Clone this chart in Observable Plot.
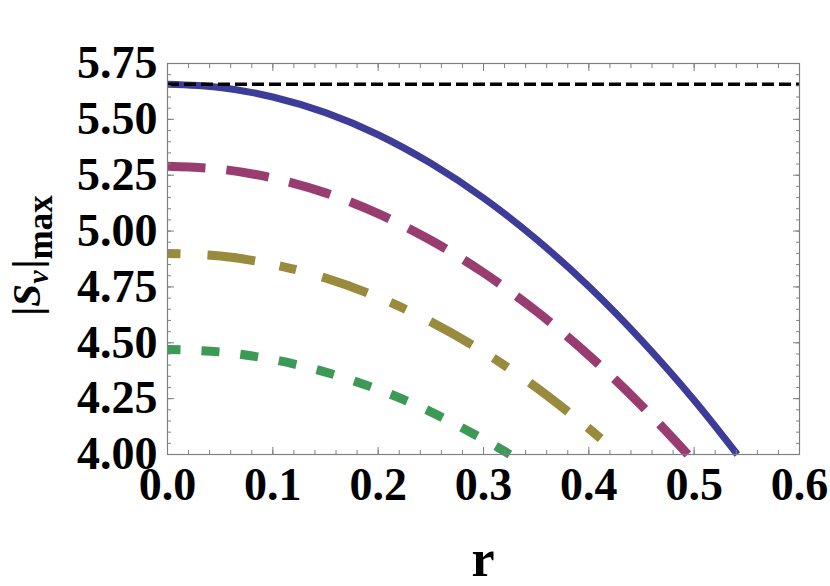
<!DOCTYPE html>
<html><head><meta charset="utf-8">
<script src="https://cdn.jsdelivr.net/npm/d3@7"></script>
<script src="https://cdn.jsdelivr.net/npm/@observablehq/plot@0.6"></script>
<style>body{margin:0;background:#fff;} #chart svg{display:block;}</style>
</head><body><div id="chart"></div>
<script>
// r values (x) and |S_v|max values (y)
const rBlue = [0, 0.05, 0.1, 0.15, 0.2, 0.25, 0.3, 0.35, 0.4, 0.45, 0.5, 0.541];
const sBlue = [5.657, 5.643, 5.600, 5.530, 5.431, 5.303, 5.148, 4.964, 4.752, 4.511, 4.243, 4.0];
const rMagenta = [0, 0.05, 0.1, 0.15, 0.2, 0.25, 0.3, 0.35, 0.4, 0.45, 0.494];
const sMagenta = [5.29, 5.277, 5.237, 5.171, 5.078, 4.959, 4.814, 4.642, 4.444, 4.219, 4.0];
const rOlive = [0, 0.05, 0.1, 0.15, 0.2, 0.25, 0.3, 0.35, 0.4, 0.429];
const sOlive = [4.90, 4.888, 4.851, 4.790, 4.704, 4.594, 4.459, 4.300, 4.116, 4.0];
const rGreen = [0, 0.05, 0.1, 0.15, 0.2, 0.25, 0.3, 0.325];
const sGreen = [4.47, 4.459, 4.425, 4.369, 4.291, 4.191, 4.068, 4.0];
const limitValue = 5.657;

const xTicks = [0, 0.1, 0.2, 0.3, 0.4, 0.5, 0.6];
const xTickLabels = ["0.0", "0.1", "0.2", "0.3", "0.4", "0.5", "0.6"];
const yTicks = [4.00, 4.25, 4.50, 4.75, 5.00, 5.25, 5.50, 5.75];
const yTickLabels = ["4.00", "4.25", "4.50", "4.75", "5.00", "5.25", "5.50", "5.75"];
const xMinor = d3.range(0, 31).map(i => +(i * 0.02).toFixed(2));
const yMinor = d3.range(0, 36).map(i => +(4 + i * 0.05).toFixed(2));

const series = [
  {r: rBlue, s: sBlue, color: "#3d3d99", width: 7, dash: null, offset: 0},
  {r: rMagenta, s: sMagenta, color: "#993d71", width: 9, dash: "43,21", offset: 5},
  {r: rOlive, s: sOlive, color: "#998b3d", width: 9, dash: "48,25,17,27", offset: 77},
  {r: rGreen, s: sGreen, color: "#3d9956", width: 9, dash: "18,21", offset: 5}
];

const tickColor = "#808080";
const font = "'Liberation Serif', 'Times New Roman', serif";
const blank = () => "";

const lineMarks = series.map(d => Plot.line(d.r.map((r, i) => ({r, s: d.s[i]})), {
  x: "r", y: "s", stroke: d.color, strokeWidth: d.width,
  strokeDasharray: d.dash, strokeDashoffset: d.offset,
  strokeLinecap: "butt", curve: "natural"
}));

const plot = Plot.plot({
  width: 830, height: 586,
  marginLeft: 167, marginRight: 31, marginTop: 63, marginBottom: 132,
  style: {fontFamily: font, fontWeight: "bold", background: "#fff"},
  x: {domain: [0, 0.6]},
  y: {domain: [4, 5.75]},
  marks: [
    ...lineMarks,
    Plot.ruleY([limitValue], {stroke: "#000", strokeWidth: 3.5, strokeDasharray: "12,5"}),
    Plot.frame({stroke: tickColor, strokeWidth: 1.2}),
    // minor & major ticks, inward, on all four sides
    Plot.axisX(xMinor, {anchor: "bottom", tickSize: -4, tickFormat: blank, stroke: tickColor, label: null}),
    Plot.axisX(xTicks, {anchor: "bottom", tickSize: -7, tickFormat: blank, stroke: tickColor, label: null}),
    Plot.axisX(xMinor, {anchor: "top", tickSize: -4, tickFormat: blank, stroke: tickColor, label: null}),
    Plot.axisX(xTicks, {anchor: "top", tickSize: -7, tickFormat: blank, stroke: tickColor, label: null}),
    Plot.axisY(yMinor, {anchor: "left", tickSize: -4, tickFormat: blank, stroke: tickColor, label: null}),
    Plot.axisY(yTicks, {anchor: "left", tickSize: -7, tickFormat: blank, stroke: tickColor, label: null}),
    Plot.axisY(yMinor, {anchor: "right", tickSize: -4, tickFormat: blank, stroke: tickColor, label: null}),
    Plot.axisY(yTicks, {anchor: "right", tickSize: -7, tickFormat: blank, stroke: tickColor, label: null}),
    // tick labels
    Plot.axisX(xTicks, {anchor: "bottom", tickSize: 0, tickPadding: 13, fontSize: 46, fill: "#000",
      tickFormat: (d) => xTickLabels[xTicks.indexOf(d)], label: null}),
    Plot.axisY(yTicks, {anchor: "left", tickSize: 0, tickPadding: 10, fontSize: 46, fill: "#000",
      tickFormat: (d) => yTickLabels[yTicks.indexOf(d)], label: null})
  ]
});

document.getElementById("chart").appendChild(plot);

// axis titles
const svg = d3.select(plot);
const xs = plot.scale("x"), ys = plot.scale("y");
const xMid = (xs.range[0] + xs.range[1]) / 2;
const yMid = (ys.range[0] + ys.range[1]) / 2;

svg.append("text")
  .attr("x", xMid).attr("y", 576)
  .attr("text-anchor", "middle")
  .style("font-family", font).style("font-weight", "bold").style("font-size", "52px")
  .text("r");

const yl = svg.append("text")
  .attr("transform", `translate(40,${yMid - 3}) rotate(-90)`)
  .attr("text-anchor", "middle")
  .style("font-family", font).style("font-weight", "bold").style("font-size", "41px");
yl.append("tspan").text("|");
yl.append("tspan").style("font-style", "italic").text("S");
yl.append("tspan").style("font-style", "italic").style("font-size", "30px").attr("dy", 8).text("v");
yl.append("tspan").attr("dy", -8).attr("dx", 2).text("|");
yl.append("tspan").style("font-size", "35px").attr("dy", 12).text("max");
</script>
</body></html>
